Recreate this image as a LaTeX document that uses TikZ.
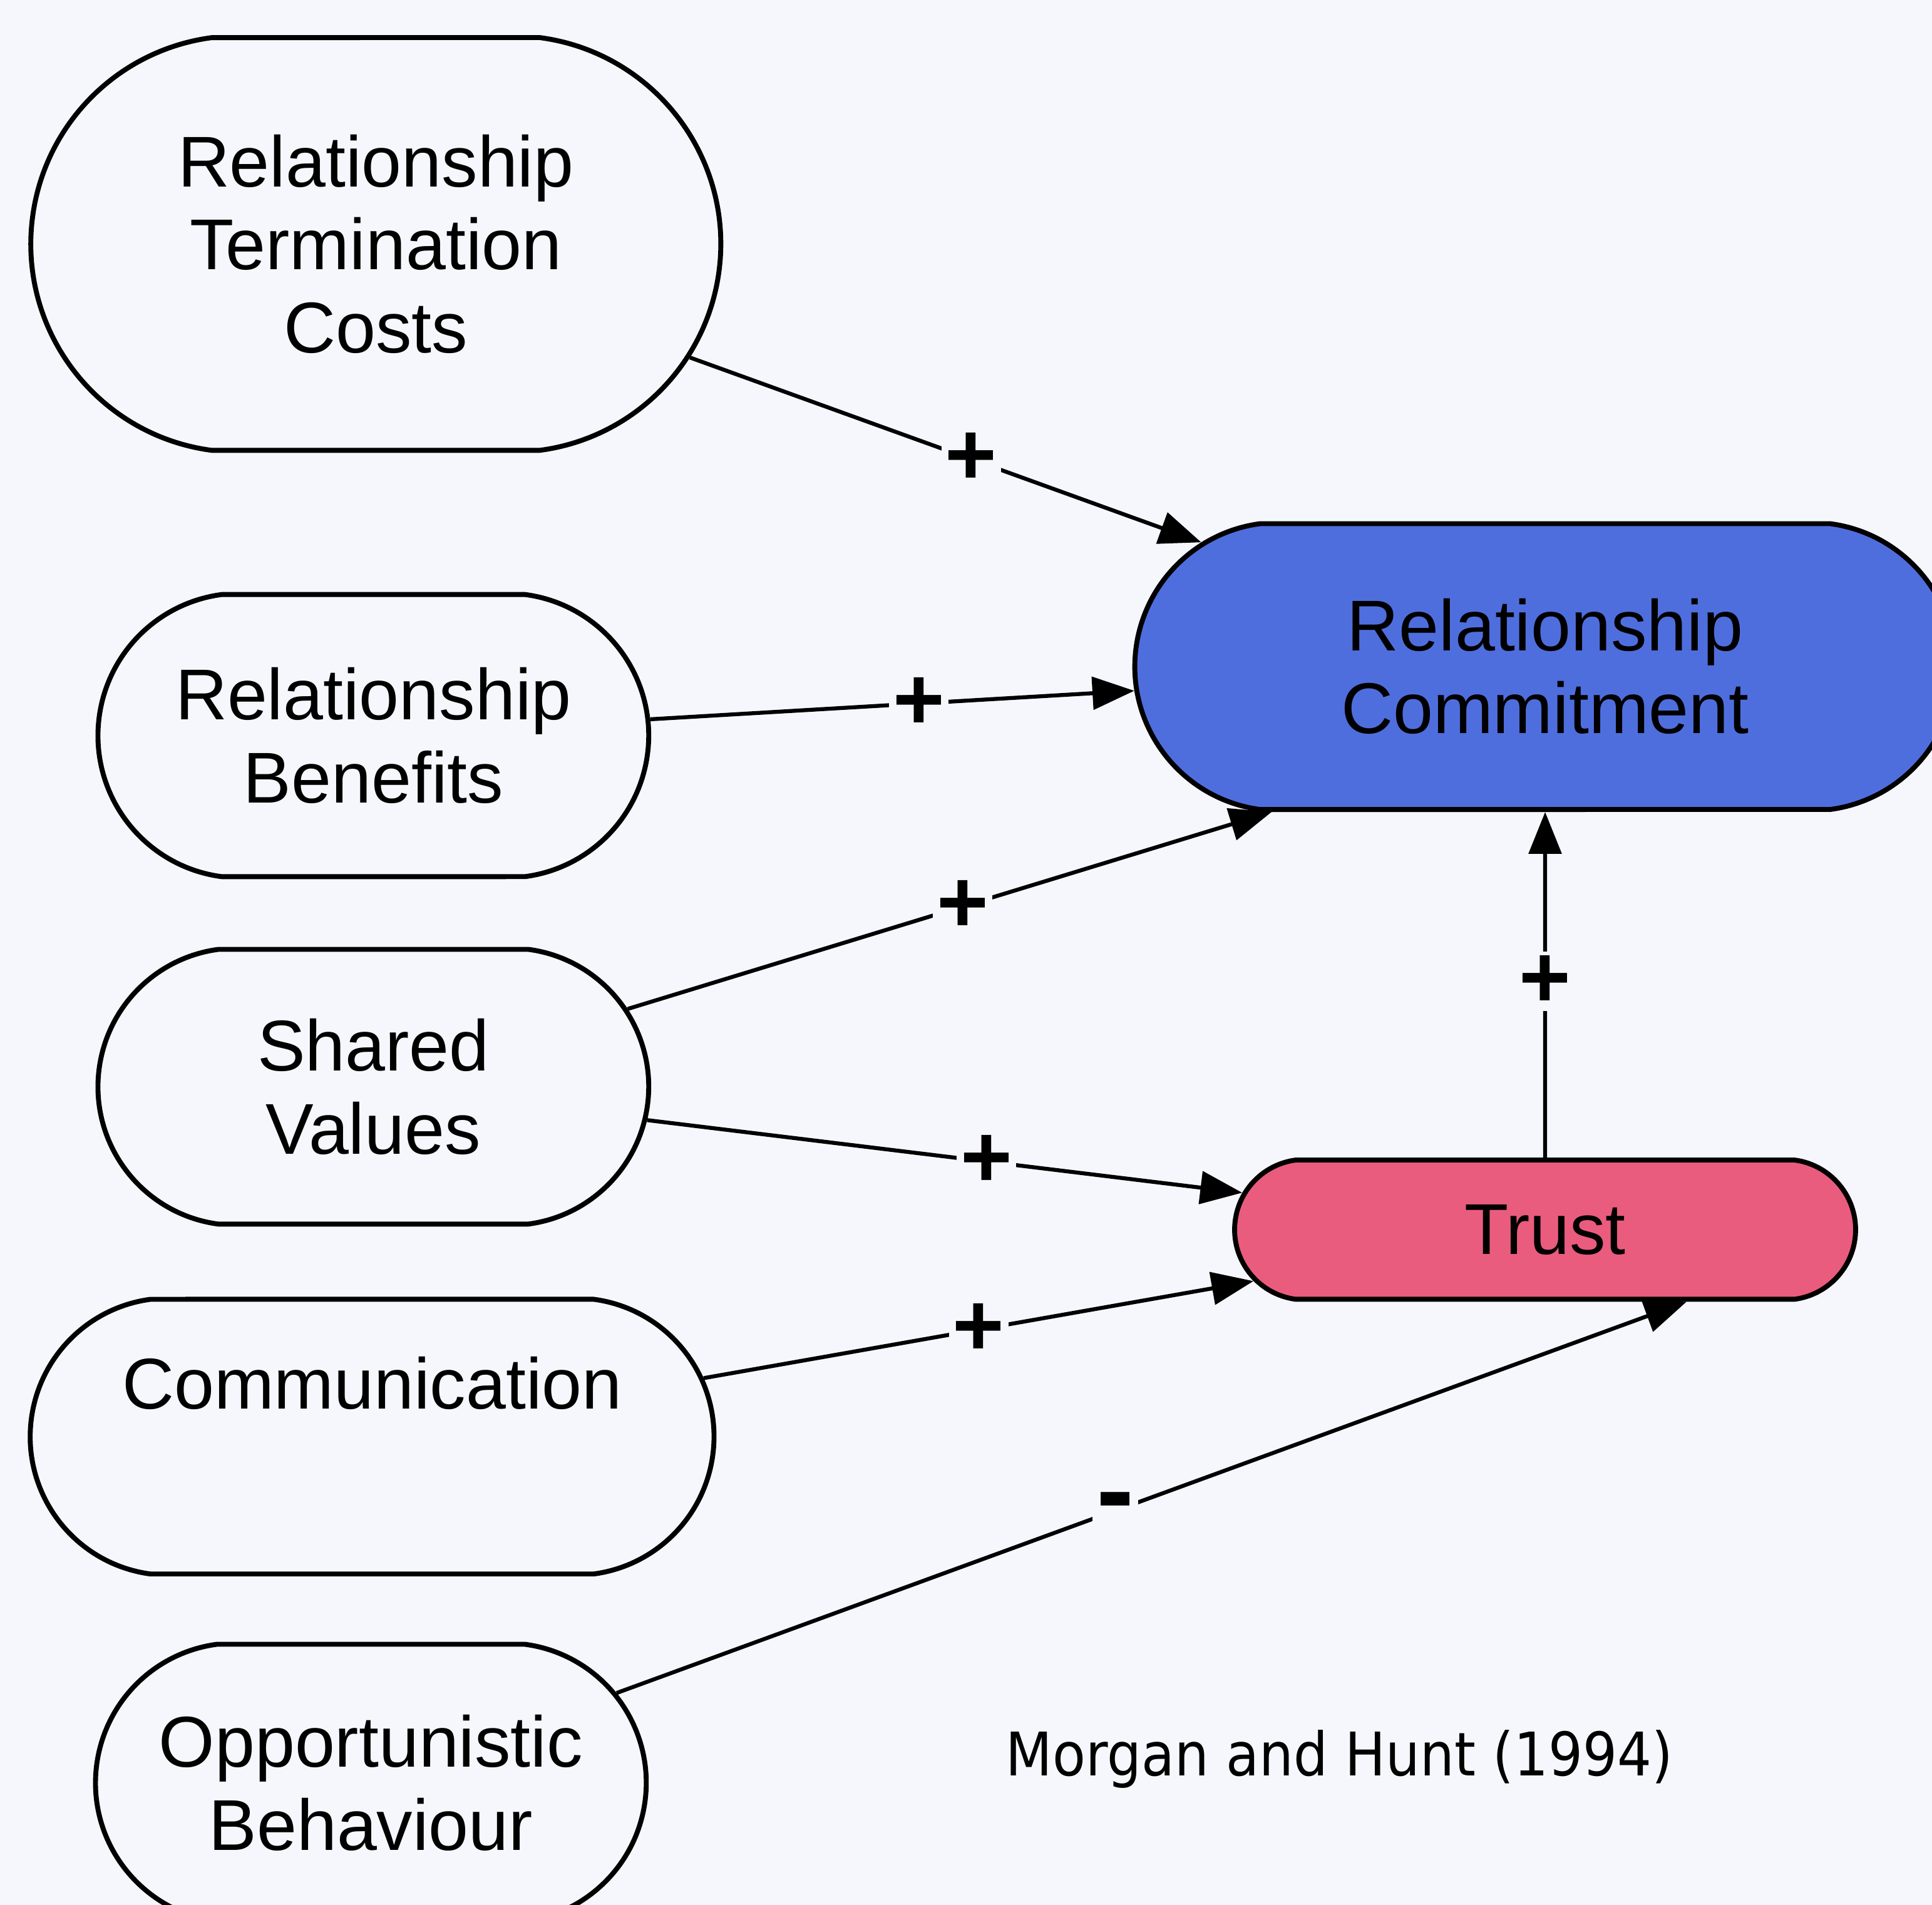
\documentclass[tikz,border=0pt]{standalone}
\usepackage{fontspec}
\setmainfont{Liberation Sans}
\newfontfamily\capfont[FakeStretch=0.9]{DejaVu Sans}
\usetikzlibrary{shapes.misc}
\usetikzlibrary{arrows.meta}
\definecolor{pagebg}{RGB}{245,247,252}
\definecolor{commitblue}{RGB}{79,110,222}
\definecolor{trustpink}{RGB}{234,92,126}
\tikzset{every picture/.style={line width=0.75pt}}
\tikzset{
  construct/.style={draw, line width=1pt, rounded rectangle, rounded rectangle arc length=165,
    align=center, inner sep=0pt, font=\fontsize{14.6}{16.8}\selectfont},
  link/.style={-{Triangle[length=8.5pt,width=6.6pt]}, line width=0.8pt},
  sign/.style={fill=pagebg, inner sep=0.8pt, font=\fontsize{18}{18}\selectfont\bfseries},
  minus/.style={fill=pagebg, inner sep=0.8pt, font=\fontsize{23}{23}\selectfont\bfseries},
}

\begin{document}
\begin{tikzpicture}[x=0.25pt,y=0.25pt,yscale=-1,xscale=1]
%set diagram left start at 0, and has height of 1546
\fill[pagebg] (0,0) rectangle (1568,1546);
\useasboundingbox (0,0) rectangle (1568,1546);

%Shape: Antecedents
\node (rtc) at (305,198) [construct, minimum width=140pt, minimum height=83.75pt] {Relationship\\Termination\\Costs};
\node (rb) at (303,597) [construct, minimum width=111.75pt, minimum height=57.25pt] {Relationship\\Benefits};
\node (sv) at (303,882) [construct, minimum width=111.75pt, minimum height=55.75pt] {Shared\\Values};
\node (comm) at (302,1166) [construct, minimum width=138.75pt, minimum height=55.75pt] {Communication\\\strut};
\node (ob) at (301,1447) [construct, minimum width=111.75pt, minimum height=56.25pt] {Opportunistic\\Behaviour};

%Shape: Mediators
\node (rc) at (1254,541) [construct, fill=commitblue, minimum width=166.5pt, minimum height=58pt] {Relationship\\Commitment};
\node (trust) at (1254,998) [construct, fill=trustpink, minimum width=126pt, minimum height=28.25pt] {Trust};

%Straight Lines
\draw [link] (rtc) -- (rc) node [sign, pos=0.55] {+};
\draw [link] (rb) -- (rc) node [sign, pos=0.555] {+};
\draw [link] (sv) -- (rc.208) node [sign, pos=0.52] {+};
\draw [link] (sv) -- (trust) node [sign, pos=0.57] {+};
\draw [link] (comm) -- (trust) node [sign, pos=0.5] {+};
\draw [link] (ob) -- (trust.333) node [minus, pos=0.466] {-};
\draw [link] (trust) -- (rc) node [sign, pos=0.51] {+};

% Text Node
\node (source) at (1087,1428) [font=\capfont\fontsize{12.2}{12.2}\selectfont] {Morgan and Hunt (1994)};

\end{tikzpicture}
\end{document}
